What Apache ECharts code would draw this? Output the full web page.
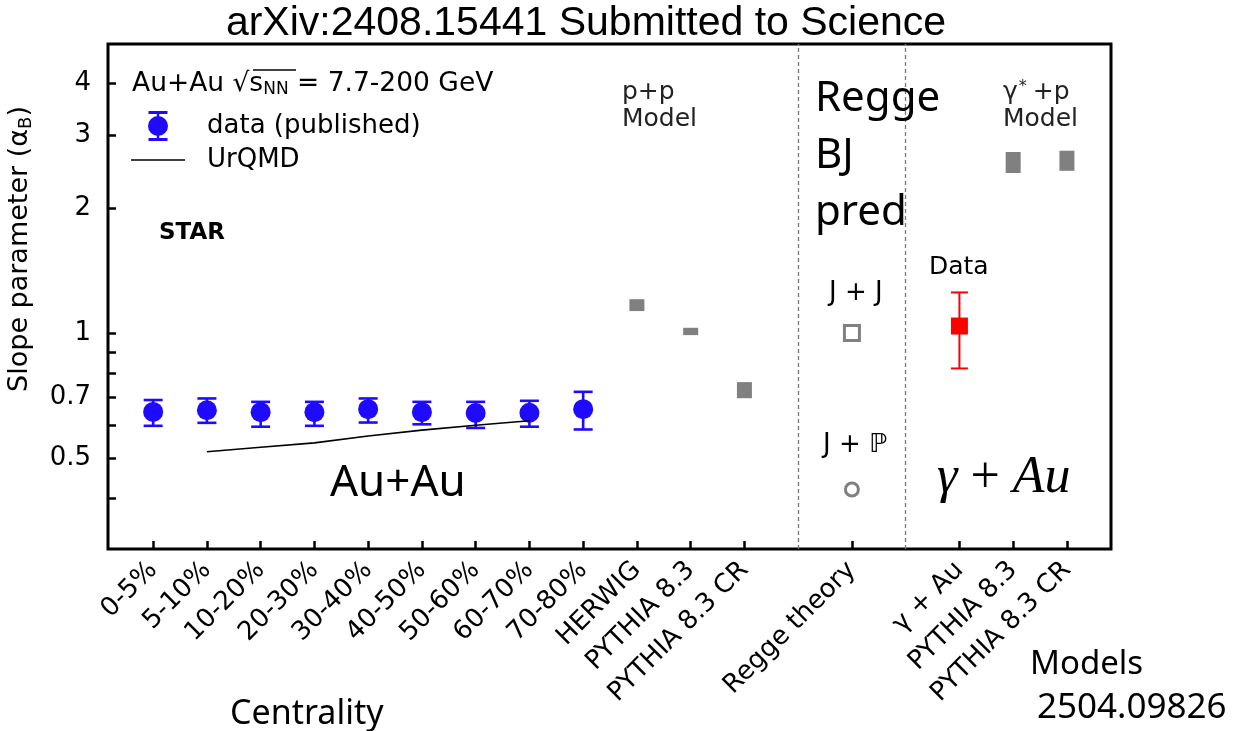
<!DOCTYPE html>
<html>
<head>
<meta charset="utf-8">
<script src="https://cdn.jsdelivr.net/npm/echarts@6/dist/echarts.min.js"></script>
<style>
html, body { margin: 0; padding: 0; background: #fff; }
#main { width: 1246px; height: 731px; }
</style>
</head>
<body>
<div id="main"></div>
<script>
// categories along x (blank slots are the dashed separators)
var categories = ['0-5%', '5-10%', '10-20%', '20-30%', '30-40%', '40-50%', '50-60%', '60-70%', '70-80%',
  'HERWIG', 'PYTHIA 8.3', 'PYTHIA 8.3 CR', '', 'Regge theory', '', 'γ + Au', 'PYTHIA 8.3', 'PYTHIA 8.3 CR'];
var tickPos = [0, 1, 2, 3, 4, 5, 6, 7, 8, 9, 10, 11, 13, 15, 16, 17];
var yTicks = [0.4, 0.5, 0.6, 0.7, 0.8, 0.9, 1, 2, 3, 4];
var yLabels = [0.5, 0.7, 1, 2, 3, 4];

// STAR Au+Au data (published)
var auauIdx = [0, 1, 2, 3, 4, 5, 6, 7, 8];
var auauValue = [0.646, 0.652, 0.645, 0.645, 0.656, 0.645, 0.642, 0.643, 0.656];
var auauLow = [0.598, 0.608, 0.595, 0.598, 0.609, 0.603, 0.591, 0.595, 0.586];
var auauHigh = [0.690, 0.696, 0.683, 0.683, 0.696, 0.683, 0.683, 0.687, 0.722];

// UrQMD
var urqmdIdx = [1, 2, 3, 4, 5, 6, 7];
var urqmdValue = [0.518, 0.531, 0.544, 0.565, 0.584, 0.600, 0.615];

// model bands (p+p and gamma*+p)
var modelIdx = [9, 10, 11, 16, 17];
var modelLow = [1.130, 0.989, 0.697, 2.43, 2.46];
var modelHigh = [1.207, 1.030, 0.762, 2.73, 2.75];

// Regge BJ predictions
var reggeIdx = 13;
var reggeJJ = 1.0;
var reggeJP = 0.42;

// gamma + Au data
var gammaIdx = [15];
var gammaValue = [1.04];
var gammaLow = [0.822];
var gammaHigh = [1.253];

var dividers = [12, 14];

var blue = '#1e0bff';
var grey = '#808080';
var font = 'DejaVu Sans';

var chart = echarts.init(document.getElementById('main'));

function errorBars(color, cap, width) {
  return function (params, api) {
    var x = api.value(0);
    var lo = api.coord([x, api.value(1)]);
    var hi = api.coord([x, api.value(2)]);
    var st = { stroke: color, lineWidth: width };
    return {
      type: 'group',
      children: [
        { type: 'line', shape: { x1: hi[0], y1: hi[1], x2: lo[0], y2: lo[1] }, style: st },
        { type: 'line', shape: { x1: hi[0] - cap, y1: hi[1], x2: hi[0] + cap, y2: hi[1] }, style: st },
        { type: 'line', shape: { x1: lo[0] - cap, y1: lo[1], x2: lo[0] + cap, y2: lo[1] }, style: st }
      ]
    };
  };
}

function txt(x, y, text, size, extra) {
  var style = {
    x: x, y: y, text: text,
    fontFamily: font, fontSize: size, fill: '#000',
    verticalAlign: 'middle', align: 'left'
  };
  for (var k in extra) style[k] = extra[k];
  return { type: 'text', style: style, z: 10 };
}

var option = {
  animation: false,
  title: {
    text: 'arXiv:2408.15441 Submitted to Science',
    left: 581, top: -2, textAlign: 'center',
    textStyle: { fontFamily: 'Liberation Sans', fontSize: 41, fontWeight: 'normal', color: '#000' }
  },
  grid: {
    left: 108, right: 135, top: 44, bottom: 182,
    show: true, borderColor: '#000', borderWidth: 3
  },
  legend: {
    left: 131, top: 111, orient: 'vertical', padding: 0,
    itemWidth: 54, itemHeight: 30, itemGap: 6,
    textStyle: { fontFamily: font, fontSize: 26, color: '#000', padding: [0, 0, 0, 17] },
    data: [
      { name: 'data (published)', icon: 'path://M0,0H19V3H0Z M0,27H19V30H0Z M8.3,0H10.7V30H8.3Z M19.5,15A10,10,0,1,1,-0.5,15A10,10,0,1,1,19.5,15Z' },
      { name: 'UrQMD', icon: 'path://M0,0H54V1.6H0Z' }
    ]
  },
  xAxis: {
    type: 'value', min: -0.84, max: 17.82,
    axisLine: { show: false, onZero: false },
    splitLine: { show: false },
    axisTick: { inside: true, length: 8, customValues: tickPos, lineStyle: { color: '#000', width: 2.5 } },
    axisLabel: {
      customValues: tickPos, rotate: 45, margin: 17,
      fontFamily: font, fontSize: 26, color: '#000',
      formatter: function (v) { return categories[Math.round(v)] || ''; }
    }
  },
  yAxis: {
    type: 'log', logBase: 10, min: 0.302, max: 4.97,
    axisLine: { show: false, onZero: false },
    splitLine: { show: false },
    axisTick: { inside: true, length: 8, customValues: yTicks, lineStyle: { color: '#000', width: 2.5 } },
    axisLabel: {
      customValues: yLabels, margin: 17,
      fontFamily: font, fontSize: 26, color: '#000',
      formatter: function (v) { return String(+v.toFixed(2)); }
    }
  },
  series: [
    {
      type: 'custom', name: 'auauErr', silent: true,
      renderItem: errorBars(blue, 9.5, 2.6),
      encode: { x: 0, y: [1, 2] },
      data: auauIdx.map(function (x, i) { return [x, auauLow[i], auauHigh[i]]; }),
      z: 2
    },
    {
      type: 'scatter', name: 'data (published)',
      symbol: 'circle', symbolSize: 20,
      itemStyle: { color: blue, opacity: 1 },
      data: auauIdx.map(function (x, i) { return [x, auauValue[i]]; }),
      z: 3
    },
    {
      type: 'line', name: 'UrQMD',
      showSymbol: false, symbol: 'none',
      lineStyle: { color: '#000', width: 1.6 },
      itemStyle: { color: '#000' },
      data: urqmdIdx.map(function (x, i) { return [x, urqmdValue[i]]; }),
      z: 4
    },
    {
      type: 'custom', name: 'models', silent: true,
      encode: { x: 0, y: [1, 2] },
      renderItem: function (params, api) {
        var x = api.value(0);
        var lo = api.coord([x, api.value(1)]);
        var hi = api.coord([x, api.value(2)]);
        return {
          type: 'rect',
          shape: { x: lo[0] - 7.5, y: hi[1], width: 15, height: lo[1] - hi[1] },
          style: { fill: grey }
        };
      },
      data: modelIdx.map(function (x, i) { return [x, modelLow[i], modelHigh[i]]; })
    },
    {
      type: 'scatter', name: 'J + J', symbol: 'rect', symbolSize: 15,
      itemStyle: { color: '#fff', borderColor: grey, borderWidth: 3, opacity: 1 },
      data: [[reggeIdx, reggeJJ]],
      markLine: {
        silent: true, symbol: 'none',
        label: { show: false },
        lineStyle: { color: '#777', width: 1.3, type: [4, 3] },
        data: dividers.map(function (d) { return { xAxis: d }; })
      }
    },
    {
      type: 'scatter', name: 'J + P', symbol: 'circle', symbolSize: 13,
      itemStyle: { color: '#fff', borderColor: grey, borderWidth: 3, opacity: 1 },
      data: [[reggeIdx, reggeJP]]
    },
    {
      type: 'custom', name: 'gammaErr', silent: true,
      renderItem: errorBars('#ff0000', 8.5, 2),
      encode: { x: 0, y: [1, 2] },
      data: gammaIdx.map(function (x, i) { return [x, gammaLow[i], gammaHigh[i]]; }),
      z: 2
    },
    {
      type: 'scatter', name: 'Data', symbol: 'rect', symbolSize: 17,
      itemStyle: { color: '#ff0000', opacity: 1 },
      data: gammaIdx.map(function (x, i) { return [x, gammaValue[i]]; }),
      z: 3
    }
  ],
  graphic: [
    txt(132, 84, '{n|Au+Au }{n|√}{n|s}{sub|NN}{n| = 7.7-200 GeV}', 26.5, {
      rich: {
        n: { fontFamily: font, fontSize: 26.5, lineHeight: 32 },
        sub: { fontFamily: font, fontSize: 17, lineHeight: 32, padding: [12, 0, 0, 0] }
      }
    }),
    { type: 'line', shape: { x1: 253, y1: 70, x2: 296, y2: 70 }, style: { stroke: '#000', lineWidth: 1.3 }, z: 10 },
    txt(159, 233, 'STAR', 23, { fontWeight: 'bold' }),
    txt(622, 106, 'p+p\nModel', 25, { lineHeight: 27, fill: '#222' }),
    txt(1003, 106, '{n|γ}{sup|*}{n|+p}\n{n|Model}', 25, {
      fill: '#222',
      rich: {
        n: { fontFamily: font, fontSize: 25, lineHeight: 27, fill: '#222' },
        sup: { fontFamily: font, fontSize: 16, lineHeight: 27, padding: [0, 6, 12, 1], fill: '#222' }
      }
    }),
    txt(815, 156, 'Regge\nBJ\npred', 42, { fontFamily: 'Noto Sans', lineHeight: 57 }),
    txt(929, 267, 'Data', 25),
    txt(829, 293, 'J + J', 26),
    txt(823, 445, 'J + ℙ', 26),
    txt(330, 483, 'Au+Au', 44, { fontFamily: 'Noto Sans' }),
    txt(937, 478, '{i|γ}{r| + }{i|Au}', 52, {
      rich: {
        i: { fontFamily: 'Liberation Serif', fontStyle: 'italic', fontSize: 52 },
        r: { fontFamily: 'Liberation Serif', fontSize: 52 }
      }
    }),
    txt(230, 714, 'Centrality', 34, { fontFamily: 'Noto Sans' }),
    txt(1030, 665, 'Models', 33, { fontFamily: 'Noto Sans' }),
    txt(1037, 708, '2504.09826', 35, { fontFamily: 'Noto Sans' }),
    {
      type: 'text', z: 10, x: 20, y: 249, rotation: Math.PI / 2,
      style: {
        text: '{n|Slope parameter (α}{sub|B}{n|)}',
        align: 'center', verticalAlign: 'middle',
        rich: {
          n: { fontFamily: font, fontSize: 27, lineHeight: 32 },
          sub: { fontFamily: font, fontSize: 18, lineHeight: 32, padding: [12, 0, 0, 0] }
        }
      }
    }
  ]
};

chart.setOption(option);
</script>
</body>
</html>
